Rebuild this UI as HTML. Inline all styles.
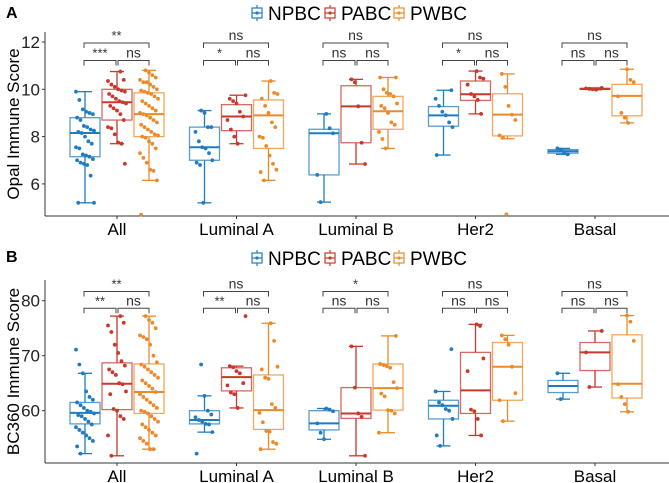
<!DOCTYPE html>
<html><head><meta charset="utf-8">
<style>
html,body{margin:0;padding:0;background:#fff;}
svg{display:block;font-family:"Liberation Sans",Arial,sans-serif;}
</style></head>
<body>
<svg id="chart" width="669" height="483" viewBox="0 0 669 483" xmlns="http://www.w3.org/2000/svg"></svg>
<script>
const categories = ["All","Luminal A","Luminal B","Her2","Basal"];
const groups = ["NPBC","PABC","PWBC"];
const colors = ["#1f7cc0","#c6392b","#ec8a2a"];

// Panel A: Opal Immune Score — box stats [lo,q1,med,q3,hi] per category per group
const statsA = [
 [[5.2,7.15,8.15,8.8,9.9],[7.7,8.7,9.45,10.0,10.75],[6.15,8.0,8.95,9.85,10.8]],
 [[5.2,7.0,7.55,8.4,9.1],[7.7,8.25,8.85,9.35,9.75],[6.15,7.5,8.9,9.55,10.35]],
 [[5.23,6.38,8.14,8.31,8.96],[6.84,7.74,9.28,10.15,10.42],[7.5,8.31,9.07,9.7,10.5]],
 [[7.22,8.44,8.9,9.27,9.96],[8.96,9.53,9.79,10.35,10.77],[7.91,8.03,8.93,9.81,10.65]],
 [[7.25,7.3,7.38,7.45,7.5],[9.98,10.0,10.02,10.04,10.06],[8.58,8.88,9.72,10.21,10.85]]
];
const pointsA = [
 [[9.9,9.55,9.15,9.05,9.0,8.95,8.8,8.7,8.45,8.4,8.3,8.25,8.2,8.15,8.0,7.8,7.7,7.55,7.5,7.25,7.2,7.15,7.05,7.0,6.9,6.85,6.8,6.35,5.2,5.2],
  [10.75,10.4,10.35,10.2,10.1,10.0,9.95,9.9,9.8,9.7,9.6,9.5,9.45,9.4,9.3,9.2,9.1,8.95,8.7,8.4,8.35,8.1,7.75,7.7,6.85],
  [10.8,10.7,10.6,10.5,10.4,10.3,10.3,10.2,10.1,10.0,9.95,9.9,9.85,9.8,9.7,9.6,9.5,9.4,9.3,9.2,9.1,9.0,8.95,8.9,8.8,8.7,8.6,8.5,8.4,8.3,8.2,8.1,8.05,8.0,7.95,7.8,7.7,7.5,7.3,7.1,6.9,6.6,6.55,6.15,4.7]],
 [[9.1,9.0,8.4,8.4,8.2,7.8,7.55,7.5,7.3,7.0,6.9,6.8,5.2],
  [9.75,9.6,9.5,9.4,9.05,8.85,8.7,8.3,8.0,7.7],
  [10.35,9.85,9.8,9.6,9.3,9.0,8.6,8.4,8.0,7.95,7.6,7.2,6.85,6.6,6.5,6.15]],
 [[8.96,8.35,8.14,6.38,5.23],[10.42,10.3,9.28,7.74,6.84],
  [10.5,10.5,10.0,9.85,9.8,9.7,9.4,9.3,9.2,9.0,8.6,8.5,8.2,7.9,7.5]],
 [[9.96,9.6,9.3,9.05,8.9,8.6,8.4,7.22],[10.77,10.5,10.45,10.2,9.8,9.7,9.55,8.96],
  [10.65,10.1,9.3,8.93,8.7,8.05,7.95,4.71]],
 [[7.5,7.45,7.3,7.25],[10.06,10.04,10.02,10.0,9.98],[10.85,10.4,10.3,9.7,9.0,8.8,8.58]]
];
const sigTopA = ["**","ns","ns","ns","ns"];
const sigLeftA = ["***","*","ns","*","ns"];
const sigRightA = ["ns","ns","ns","ns","ns"];
const ticksA = [6,8,10,12];

// Panel B: BC360 Immune Score
const statsB = [
 [[52.2,57.6,59.6,61.5,66.8],[51.8,60.2,64.9,68.7,77.2],[53,59.5,63.4,68.5,77.2]],
 [[56.1,57.6,58.3,60,62.7],[60.5,63.6,66.1,67.8,68.1],[53,56.6,60.1,66.5,75.9]],
 [[54.8,56.5,57.7,60,60.4],[51.8,58.6,59.5,64.2,71.7],[56,60.1,64.1,68.5,73.6]],
 [[53.6,58.5,60.9,61.9,63.5],[55.5,59.5,63.7,70.6,75.7],[58.1,61.9,68,72.4,73.7]],
 [[62.1,63.3,64.5,65.5,66.8],[64.3,67.3,70.6,72.4,74.5],[59.8,62.3,64.9,73.8,77.3]]
];
const pointsB = [
 [[71.1,68.4,66.8,63.5,62.5,62,61.5,61,60.5,60,59.8,59.5,59.2,59,58.5,58,57.5,57,56.5,56,55.5,55,54.5,53.5,52.2],
  [77.2,76,75.5,74.3,72,70.5,69,68.2,67.5,67,66.5,65,64.8,63.5,63,60.3,60,59,58.5,55.5,51.8],
  [77.2,76.5,76,75,73.7,73.4,73,72,70,68.8,68.4,68,67.5,67,66.5,66,65.5,65,64.5,64,63.4,63,62.5,62,61.5,61,60.5,60,59.8,59.5,59,58.5,58,57.5,57,56.5,56,55.5,55,54.5,54,53,53]],
 [[68.4,62.7,60,59.3,58.8,58.3,58,57.6,57.5,56.1,52.2],
  [77.2,68.1,67.9,67.2,66.8,65,64.6,63.3,63,60.5],
  [75.9,72.7,68,67.5,66,65.8,61.2,60.5,59.6,57.9,56.3,56.2,54.3,54,53]],
 [[60.4,60.2,59.9,57.7,56,54.8],[71.7,64.2,59.5,58.9,51.8],
  [73.6,68.5,68.3,68.1,67.8,65.2,64.1,63.1,62.6,60.1,60,59.5,56]],
 [[71.2,63.5,61.5,61,60.3,60,58.5,55.5,53.6],[75.7,75.4,69.5,67.2,60.2,59.9,58.5,55.5],
  [73.7,73,72,68,63.2,61.9,58.1]],
 [[66.8,62.1],[74.5,70.6,64.3],[77.3,76.2,72.7,64.8,62.5,61.2,59.8]]
];
const sigTopB = ["**","ns","*","ns","ns"];
const sigLeftB = ["**","**","ns","ns","ns"];
const sigRightB = ["ns","ns","ns","ns","ns"];
const ticksB = [60,70,80];

const NS = "http://www.w3.org/2000/svg";
const svg = document.getElementById("chart");
function mk(tag, attrs, parent){
  const e = document.createElementNS(NS, tag);
  for (const k in attrs) e.setAttribute(k, attrs[k]);
  (parent||svg).appendChild(e);
  return e;
}
function catX(i){ return 117 + i*119.5; }
const offs = [-32,0,32];

function panel(cfg){
  const g = mk("g", {});
  
  
  const y = v => cfg.y0 - (v - cfg.v0) * cfg.scale;
  const L = mk("text",{x:6,y:cfg.letterY,"font-size":"16","font-weight":"bold",fill:"#000"},g);
  L.textContent = cfg.letter;
  
  
  const lg = mk("g",{},g);
  
  
  const lx = [257,330,399];
  groups.forEach((gn,k)=>{
    const it = mk("g",{},lg);
    
    
    const cx = lx[k], cy = cfg.legY;
    mk("line",{x1:cx,y1:cy-8,x2:cx,y2:cy+8,stroke:colors[k],"stroke-width":1.2},it);
    mk("rect",{x:cx-5,y:cy-5,width:10,height:10,fill:"#fff",stroke:colors[k],"stroke-width":1.2},it);
    mk("line",{x1:cx-5,y1:cy,x2:cx+5,y2:cy,stroke:colors[k],"stroke-width":1.2},it);
    mk("circle",{cx:cx,cy:cy,r:1.6,fill:colors[k]},it);
    const t = mk("text",{x:cx+11,y:cy+7,"font-size":"19",fill:"#000"},it);
    t.textContent = gn;
  });
  const ax = mk("g",{},g);
  
  
  mk("line",{x1:45,y1:cfg.top,x2:45,y2:cfg.bottom,stroke:"#333","stroke-width":1},ax);
  mk("line",{x1:45,y1:cfg.bottom,x2:669,y2:cfg.bottom,stroke:"#333","stroke-width":1},ax);
  cfg.ticks.forEach(tv=>{
    mk("line",{x1:42,y1:y(tv),x2:45,y2:y(tv),stroke:"#333"},ax);
    const t = mk("text",{x:40,y:y(tv)+6,"font-size":"17","text-anchor":"end",fill:"#222"},ax);
    t.textContent = tv;
    
    
  });
  const yt = mk("text",{x:0,y:0,"font-size":"17","text-anchor":"middle",fill:"#000",transform:`translate(19,${(cfg.top+cfg.bottom)/2}) rotate(-90)`},ax);
  yt.textContent = cfg.ytitle;
  
  
  categories.forEach((c,i)=>{
    mk("line",{x1:catX(i),y1:cfg.bottom,x2:catX(i),y2:cfg.bottom+3,stroke:"#333"},ax);
    const t = mk("text",{x:catX(i),y:cfg.bottom+19,"font-size":"17","text-anchor":"middle",fill:"#000"},ax);
    t.textContent = c;
    
    
  });
  categories.forEach((c,i)=>{
    groups.forEach((gn,k)=>{
      const s = cfg.stats[i][k];
      const cx = catX(i)+offs[k], col = colors[k], hw = 15;
      const bg = mk("g",{},g);
      
      
      mk("line",{x1:cx,y1:y(s[0]),x2:cx,y2:y(s[1]),stroke:col,"stroke-width":1.3},bg);
      mk("line",{x1:cx,y1:y(s[3]),x2:cx,y2:y(s[4]),stroke:col,"stroke-width":1.3},bg);
      mk("line",{x1:cx-7,y1:y(s[0]),x2:cx+7,y2:y(s[0]),stroke:col,"stroke-width":1.3},bg);
      mk("line",{x1:cx-7,y1:y(s[4]),x2:cx+7,y2:y(s[4]),stroke:col,"stroke-width":1.3},bg);
      mk("rect",{x:cx-hw,y:y(s[3]),width:2*hw,height:Math.max(1,y(s[1])-y(s[3])),fill:"#fff",stroke:col,"stroke-width":1.3,"stroke-opacity":0.75},bg);
      mk("line",{x1:cx-hw,y1:y(s[2]),x2:cx+hw,y2:y(s[2]),stroke:col,"stroke-width":2},bg);
      cfg.points[i][k].forEach((v,j)=>{
        const jit = (((j*37+k*11+i*5)%17)/16 - 0.5)*18;
        const p = mk("circle",{cx:cx+jit,cy:y(v),r:1.9,fill:col},bg);
        
        
      });
    });
    const sg = mk("g",{},g);
    
    
    const x0 = catX(i)-33, x1 = catX(i)-1, x2 = catX(i)+1, x3 = catX(i)+32;
    const br = (a,b,yy,lab)=>{
      mk("path",{d:`M${a},${yy+5}V${yy}H${b}V${yy+5}`,fill:"none",stroke:"#444","stroke-width":1},sg);
      const t = mk("text",{x:(a+b)/2,y:yy-3,"font-size":lab==="ns"?"14":"13","text-anchor":"middle",fill:"#333"},sg);
      t.textContent = lab;
    };
    br(x0,x3,cfg.brTop,cfg.sigTop[i]);
    br(x0,x1,cfg.brLow,cfg.sigLeft[i]);
    br(x2,x3,cfg.brLow,cfg.sigRight[i]);
  });
}

panel({name:"panel-a",letter:"A",letterY:18,legY:13,top:32,bottom:216,y0:42,v0:12,scale:23.65,
  ticks:ticksA,ytitle:"Opal Immune Score",stats:statsA,points:pointsA,
  sigTop:sigTopA,sigLeft:sigLeftA,sigRight:sigRightA,brTop:43,brLow:60.5});
panel({name:"panel-b",letter:"B",letterY:262,legY:258,top:280,bottom:463,y0:300.7,v0:80,scale:5.5,
  ticks:ticksB,ytitle:"BC360 Immune Score",stats:statsB,points:pointsB,
  sigTop:sigTopB,sigLeft:sigLeftB,sigRight:sigRightB,brTop:291.5,brLow:308.3});
</script>
</body></html>
